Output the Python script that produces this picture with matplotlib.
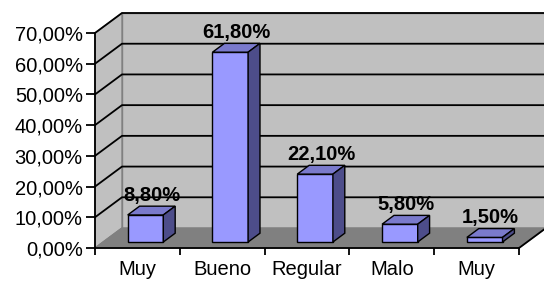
import matplotlib
matplotlib.use("Agg")
import matplotlib.pyplot as plt
from matplotlib.patches import Polygon

# datos del grafico (las etiquetas de abajo salen cortadas en el original)
categorias = ["Muy", "Bueno", "Regular", "Malo", "Muy"]
valores = [8.8, 61.8, 22.1, 5.8, 1.5]
etiquetas = ["8,80%", "61,80%", "22,10%", "5,80%", "1,50%"]
yticks = [0, 10, 20, 30, 40, 50, 60, 70]
ytick_labels = ["0,00%", "10,00%", "20,00%", "30,00%", "40,00%", "50,00%", "60,00%", "70,00%"]

plt.rcParams['font.family'] = ['Liberation Sans', 'DejaVu Sans']

W, H = 544, 281
fig = plt.figure(figsize=(W / 100, H / 100), dpi=100)
ax = fig.add_axes([95 / W, (H - 248) / H, 424 / W, 215 / H])
n = len(valores)
ymax = yticks[-1]
ax.set_xlim(0, n)
ax.set_ylim(0, ymax)
ax.set_facecolor("none")

# profundidad del efecto 3D en unidades de datos
DX = 27 / (424 / n)
DY = 20 / (215 / ymax)

# paredes y piso
ax.add_patch(Polygon([(DX, DY), (n + DX, DY), (n + DX, ymax + DY), (DX, ymax + DY)],
                     closed=True, facecolor="#C0C0C0", edgecolor="#808080", lw=1, clip_on=False, zorder=1))
ax.add_patch(Polygon([(0, 0), (DX, DY), (DX, ymax + DY), (0, ymax)],
                     closed=True, facecolor="#C0C0C0", edgecolor="#808080", lw=1, clip_on=False, zorder=1))
ax.add_patch(Polygon([(0, 0), (n, 0), (n + DX, DY), (DX, DY)],
                     closed=True, facecolor="#808080", edgecolor="#808080", lw=1, clip_on=False, zorder=1))
for v in yticks[1:]:
    ax.plot([0, DX, n + DX], [v, v + DY, v + DY], color="black", lw=1.3, clip_on=False, zorder=1.5)
ax.plot([n, n + DX], [0, DY], color="black", lw=1.3, clip_on=False, zorder=1.5)

# barras 3D
ancho = 0.42
f0, f1 = 0.30, 0.74
for i, v in enumerate(valores):
    c = i + 0.5
    x0 = c - ancho / 2 + f0 * DX
    x1 = c + ancho / 2 + f0 * DX
    y0 = f0 * DY
    ddx = (f1 - f0) * DX
    ddy = (f1 - f0) * DY
    top = v + y0
    frente = [(x0, y0), (x1, y0), (x1, top), (x0, top)]
    techo = [(x0, top), (x1, top), (x1 + ddx, top + ddy), (x0 + ddx, top + ddy)]
    lado = [(x1, y0), (x1 + ddx, y0 + ddy), (x1 + ddx, top + ddy), (x1, top)]
    for pts, col in [(frente, "#9999FF"), (techo, "#7A7ACC"), (lado, "#4D4D8A")]:
        ax.add_patch(Polygon(pts, closed=True, facecolor=col, edgecolor="black",
                             lw=1, clip_on=False, zorder=3))
    fm = (f0 + f1) / 2
    ax.annotate(etiquetas[i], (c + fm * DX, v + fm * DY), xytext=(0, 11),
                textcoords="offset points", ha="center", va="center",
                fontsize=14.5, fontweight="bold", zorder=4, annotation_clip=False)

# ejes
for s in ["top", "right"]:
    ax.spines[s].set_visible(False)
for s in ["left", "bottom"]:
    ax.spines[s].set_color("black")
    ax.spines[s].set_linewidth(1.3)
    ax.spines[s].set_zorder(2)
ax.set_yticks(yticks)
ax.set_yticklabels(ytick_labels, fontsize=14.5)
ax.tick_params(axis="y", direction="out", length=6.8, width=1.3, pad=2)
ax.set_xticks(range(n + 1))
ax.set_xticklabels([""] * (n + 1))
ax.set_xticks([i + 0.5 for i in range(n)], minor=True)
ax.set_xticklabels(categorias, minor=True, fontsize=14.5, va="top")
ax.tick_params(axis="x", which="major", direction="out", length=5, width=1.3)
ax.tick_params(axis="x", which="minor", length=0, pad=8.5)

fig.savefig("out.png", dpi=100)
